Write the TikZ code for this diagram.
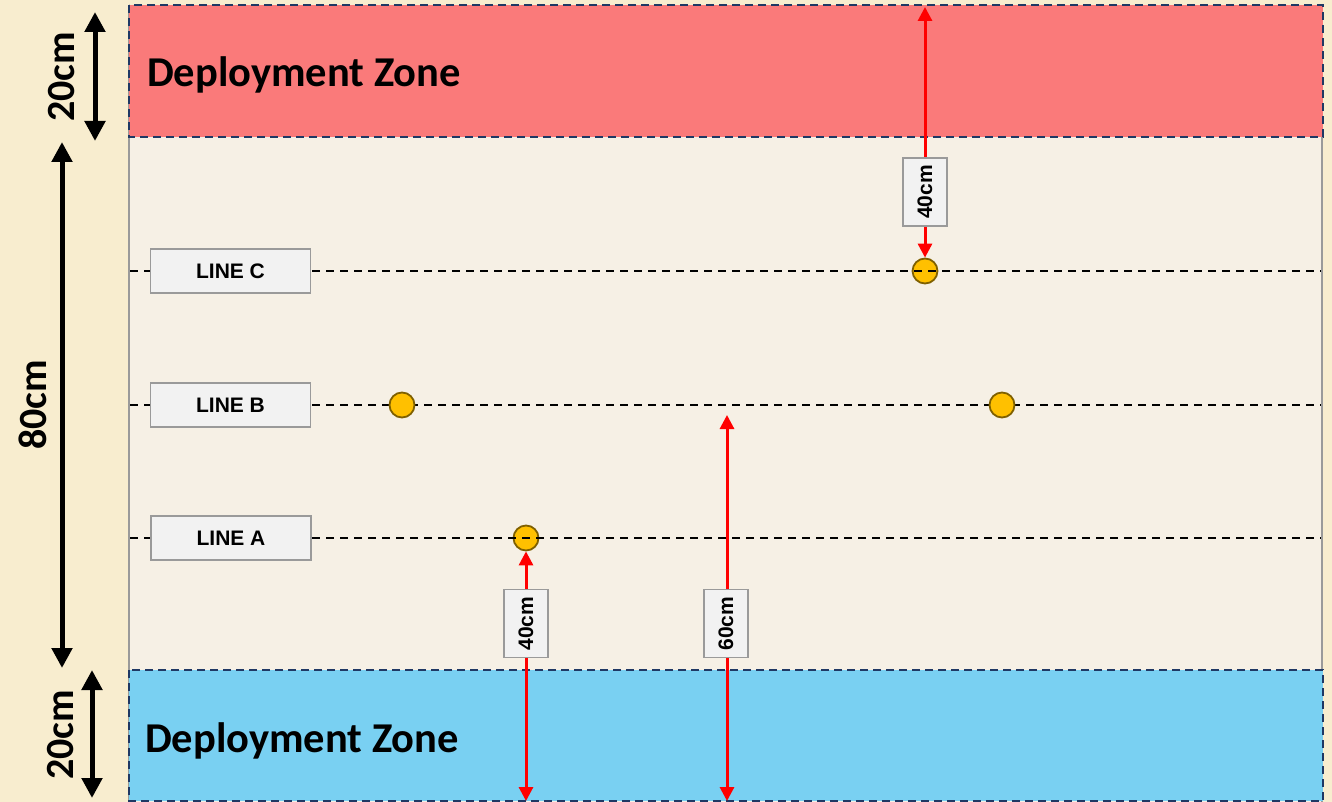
\documentclass[tikz,border=0pt]{standalone}
\usepackage{fontspec}
\setmainfont{Carlito}
\newfontfamily\labelfont{Liberation Sans}
\usetikzlibrary{arrows.meta}

\definecolor{parchment}{HTML}{F8EDCF}
\definecolor{boardcol}{HTML}{F6F0E5}
\definecolor{redzone}{HTML}{FA7A7A}
\definecolor{bluezone}{HTML}{79D0F2}
\definecolor{navy}{HTML}{1F3864}
\definecolor{boxfill}{HTML}{F2F2F2}
\definecolor{boxedge}{HTML}{9A9A9A}
\definecolor{objfill}{HTML}{FFC000}
\definecolor{objedge}{HTML}{7F6000}

\tikzset{
  zonebox/.style={draw=navy, line width=2.8pt, dash pattern=on 8pt off 5pt},
  zonetext/.style={font=\bfseries\fontsize{42.5}{42.5}\selectfont, text=black, anchor=west, inner sep=0pt},
  measure/.style={line width=5pt, black, {Triangle[width=20pt,length=20pt]}-{Triangle[width=20pt,length=20pt]}},
  measuretext/.style={font=\bfseries\fontsize{40}{40}\selectfont, rotate=90, inner sep=0pt},
  rowline/.style={black, line width=1.7pt, dash pattern=on 8pt off 6pt},
  rowlabel/.style={draw=boxedge, line width=1.2pt, fill=boxfill, minimum width=160pt, minimum height=44pt,
    font=\labelfont\bfseries\fontsize{21}{21}\selectfont, inner sep=0pt},
  objective/.style={circle, draw=objedge, line width=1.8pt, fill=objfill, minimum size=25pt, inner sep=0pt},
  gap/.style={red, line width=3pt, {Triangle[width=14pt,length=14pt]}-{Triangle[width=14pt,length=14pt]}},
  gaplabel/.style={draw=boxedge, line width=1.2pt, fill=boxfill, minimum width=68pt, minimum height=44pt,
    rotate=90, font=\labelfont\bfseries\fontsize{21}{21}\selectfont, inner sep=0pt}
}

\begin{document}
\begin{tikzpicture}[x=1pt, y=-1pt]
  \useasboundingbox (0,0) rectangle (1332,802);
  \fill[parchment] (0,0) rectangle (1332,802);

  % table surface
  \fill[boardcol] (129,5) rectangle (1323,802);
  \draw[boxedge, line width=1.6pt] (129,5) -- (129,802);
  \draw[boxedge, line width=1.6pt] (1322,5) -- (1322,802);

  % deployment zones
  \fill[redzone] (129,5) rectangle (1323,137);
  \draw[zonebox] (129,5) rectangle (1323,137);
  \node[zonetext] (dztop) at (147,75) {Deployment Zone};

  \fill[bluezone] (129,670) rectangle (1323,801);
  \draw[zonebox] (129,670) rectangle (1323,801);
  \node[zonetext] (dzbot) at (145,741) {Deployment Zone};

  % side measurements
  \coordinate (m1a) at (95,12);  \coordinate (m1b) at (95,141);
  \coordinate (m2a) at (62,142); \coordinate (m2b) at (62,668);
  \coordinate (m3a) at (92,670); \coordinate (m3b) at (92,798);
  \draw[measure] (m1a) -- (m1b);
  \draw[measure] (m2a) -- (m2b);
  \draw[measure] (m3a) -- (m3b);
  \node[measuretext] (t1) at (62,77) {20cm};
  \node[measuretext] (t2) at (33,405) {80cm};
  \node[measuretext] (t3) at (61,735) {20cm};

  % objective lines
  \coordinate (lCa) at (130,271); \coordinate (lCb) at (1321,271);
  \coordinate (lBa) at (130,405); \coordinate (lBb) at (1321,405);
  \coordinate (lAa) at (130,538); \coordinate (lAb) at (1321,538);

  \draw[rowline] (lBa) -- (lBb);
  \node[objective] (oB1) at (402,405) {};
  \node[objective] (oB2) at (1002,405) {};

  \node[objective] (oC) at (925,271) {};
  \node[objective] (oA) at (526,538) {};
  \draw[rowline] (lCa) -- (lCb);
  \draw[rowline] (lAa) -- (lAb);

  \node[rowlabel] (labC) at (230.5,271) {LINE C};
  \node[rowlabel] (labB) at (230.5,405) {LINE B};
  \node[rowlabel] (labA) at (231,538) {LINE A};

  % distances
  \coordinate (topedge) at (925,7);
  \coordinate (botA) at (526,801);
  \coordinate (botB) at (727,801);
  \coordinate (tipB) at (727,415);
  \draw[gap] (topedge) -- (oC.north);
  \draw[gap] (oA.south) -- (botA);
  \draw[gap] (tipB) -- (botB);
  \node[gaplabel] (g1) at (925,192) {40cm};
  \node[gaplabel] (g2) at (526,623.5) {40cm};
  \node[gaplabel] (g3) at (726,623.5) {60cm};
\end{tikzpicture}
\end{document}
